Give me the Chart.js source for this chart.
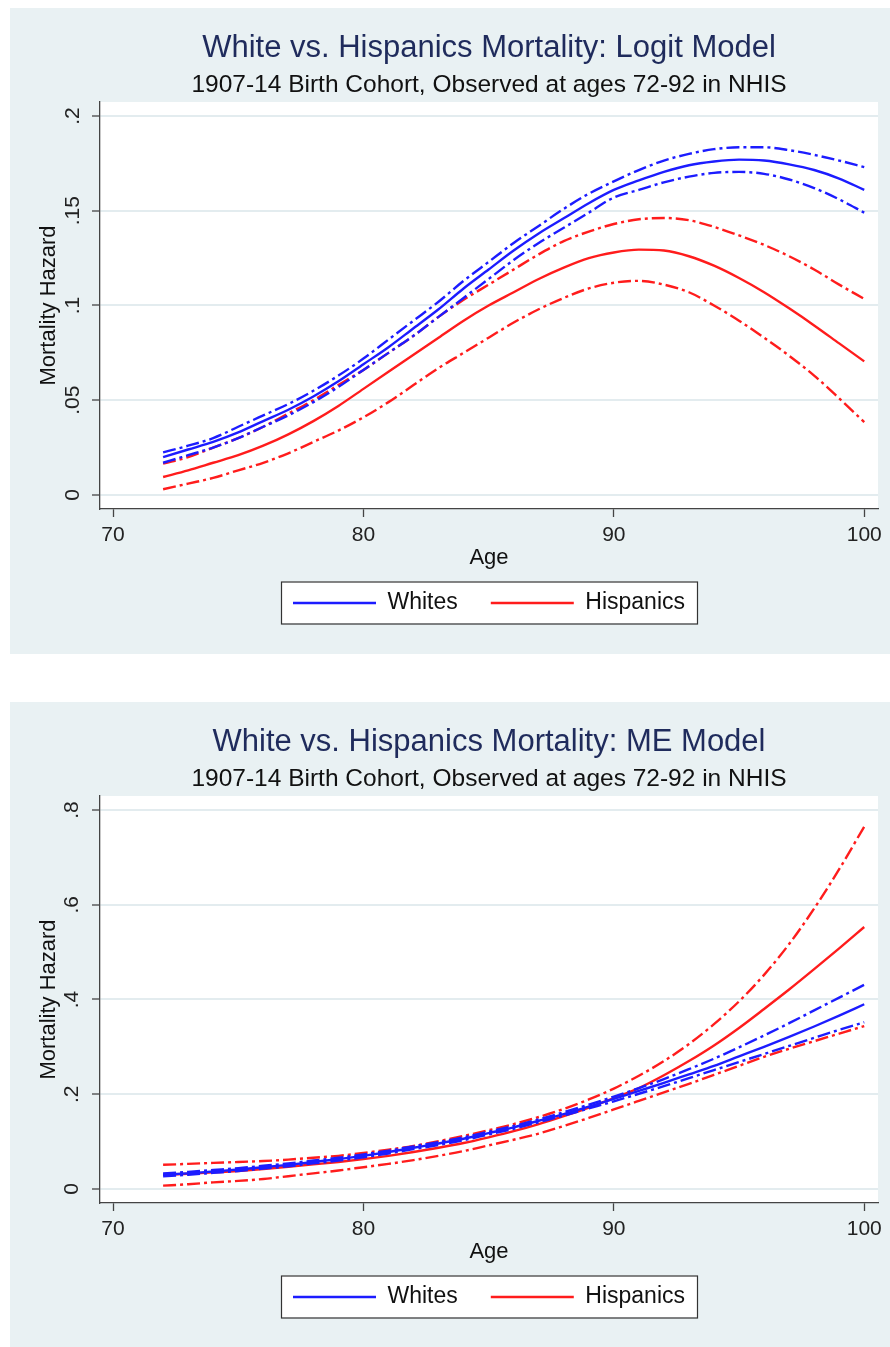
<!DOCTYPE html>
<html>
<head>
<meta charset="utf-8">
<script src="https://cdn.jsdelivr.net/npm/chart.js@4.4.0/dist/chart.umd.min.js"></script>
<style>
  body { margin: 0; background: #fff; }
  .panel { position: absolute; left: 10px; width: 880px; height: 646px; background: #e9f1f3; }
  #panel1 { top: 8px; }
  #panel2 { top: 702px; }
</style>
</head>
<body>
<div class="panel" id="panel1"><canvas id="logitChart"></canvas></div>
<div class="panel" id="panel2"><canvas id="meChart"></canvas></div>
<script>
const ages = [72, 73, 74, 75, 76, 77, 78, 79, 80, 81, 82, 83, 84, 85, 86, 87, 88, 89, 90, 91, 92, 93, 94, 95, 96, 97, 98, 99, 100];

// Logit model (top panel)
const logitWhites      = [.020, .024, .028, .033, .039, .045, .052, .060, .069, .078, .088, .098, .109, .119, .129, .138, .146, .154, .161, .166, .1705, .174, .176, .177, .1765, .1745, .1715, .167, .161];
const logitWhitesUpper = [.0225, .026, .030, .036, .042, .048, .055, .063, .072, .082, .092, .102, .113, .123, .133, .142, .151, .159, .1655, .1715, .1765, .180, .1825, .1835, .1835, .182, .1795, .1765, .173];
const logitWhitesLower = [.017, .021, .025, .030, .036, .042, .049, .057, .066, .075, .084, .094, .104, .114, .124, .133, .141, .149, .157, .161, .165, .168, .170, .1705, .1695, .1665, .162, .156, .149];
const logitHisp        = [.0095, .013, .017, .021, .026, .032, .039, .047, .056, .065, .074, .083, .092, .100, .107, .114, .120, .125, .128, .1295, .129, .126, .121, .1145, .107, .0985, .0895, .080, .0705];
const logitHispUpper   = [.0165, .020, .025, .030, .036, .043, .050, .058, .066, .075, .084, .094, .103, .111, .119, .127, .134, .139, .143, .1455, .1462, .145, .1415, .137, .132, .126, .119, .111, .1035];
const logitHispLower   = [.003, .006, .009, .013, .017, .022, .028, .034, .041, .049, .058, .067, .075, .083, .091, .098, .104, .109, .112, .113, .111, .107, .100, .092, .083, .0735, .063, .051, .0385];

// ME model (bottom panel)
const meWhites      = [.030, .033, .037, .041, .046, .051, .057, .063, .070, .078, .087, .096, .106, .118, .130, .144, .158, .174, .190, .207, .224, .242, .260, .280, .300, .321, .343, .366, .390];
const meWhitesUpper = [.033, .036, .040, .044, .049, .054, .060, .066, .073, .081, .090, .099, .109, .121, .133, .147, .162, .178, .195, .213, .232, .253, .275, .299, .324, .350, .377, .404, .431];
const meWhitesLower = [.027, .030, .034, .038, .043, .048, .054, .060, .067, .075, .084, .093, .103, .115, .127, .141, .155, .170, .185, .201, .217, .234, .251, .268, .285, .302, .319, .336, .352];
const meHisp        = [.030, .032, .035, .038, .042, .047, .052, .057, .063, .070, .078, .087, .097, .109, .122, .137, .154, .172, .192, .213, .240, .270, .303, .340, .380, .421, .464, .508, .553];
const meHispUpper   = [.051, .053, .055, .057, .059, .062, .066, .070, .076, .083, .091, .101, .112, .124, .137, .152, .169, .189, .212, .239, .270, .306, .348, .396, .452, .517, .592, .675, .765];
const meHispLower   = [.007, .010, .014, .017, .021, .027, .033, .039, .046, .053, .061, .070, .080, .092, .104, .117, .133, .150, .168, .186, .204, .222, .241, .260, .279, .296, .312, .328, .344];

const BLUE = '#1c1cff';
const RED = '#ff1c1c';
const DASHDOT = [13, 4, 3, 4];
const FONT = "'Liberation Sans', Arial, sans-serif";

Chart.defaults.font.family = FONT;
Chart.defaults.color = '#111';

// white plot region + framed legend, like the Stata look
const plotBackdrop = {
    id: 'plotBackdrop',
    beforeDraw(chart) {
        const {ctx, chartArea} = chart;
        ctx.save();
        ctx.fillStyle = '#fff';
        ctx.fillRect(chartArea.left, chartArea.top, chartArea.right - chartArea.left, chartArea.bottom - chartArea.top);
        const boxes = chart.legend && chart.legend.legendHitBoxes;
        if (boxes && boxes.length) {
            const left = Math.min(...boxes.map(b => b.left)) - 12;
            const right = Math.max(...boxes.map(b => b.left + b.width)) + 12;
            const top = Math.min(...boxes.map(b => b.top)) - 10;
            const bottom = Math.max(...boxes.map(b => b.top + b.height)) + 9;
            ctx.fillRect(left, top, right - left, bottom - top);
            ctx.strokeStyle = '#333';
            ctx.lineWidth = 1.2;
            ctx.strokeRect(left + 0.5, top + 0.5, right - left, bottom - top);
        }
        ctx.restore();
    }
};

function series(label, values, color, dashed) {
    return {
        label: label,
        data: values.map((v, i) => ({x: ages[i], y: v})),
        borderColor: color,
        backgroundColor: color,
        borderWidth: 2.4,
        borderDash: dashed ? DASHDOT : [],
        pointRadius: 0,
        cubicInterpolationMode: 'monotone',
        fill: false
    };
}

function tickText(v) {
    if (v === 0) return '0';
    return String(v).replace(/^0\./, '.');
}

function buildChart(canvasId, titleText, yMin, yMax, yStep, yTickPad, data) {
    const ctx = document.getElementById(canvasId).getContext('2d');
    return new Chart(ctx, {
        type: 'line',
        data: {
            datasets: [
                series('Whites', data.w, BLUE, false),
                series('Whites upper CI', data.wu, BLUE, true),
                series('Whites lower CI', data.wl, BLUE, true),
                series('Hispanics', data.h, RED, false),
                series('Hispanics upper CI', data.hu, RED, true),
                series('Hispanics lower CI', data.hl, RED, true)
            ]
        },
        options: {
            responsive: true,
            maintainAspectRatio: false,
            animation: false,
            layout: { padding: { top: 0, left: 0, right: 12, bottom: 29.5 } },
            scales: {
                x: {
                    type: 'linear',
                    min: 69.48,
                    max: 100.55,
                    afterFit: s => { s.height = 49.5; },
                    ticks: { stepSize: 10, includeBounds: false, font: { size: 21 }, color: '#222', padding: 5.4 },
                    grid: { drawOnChartArea: false, tickLength: 8, tickColor: '#444', tickWidth: 1.3 },
                    border: { color: '#444', width: 1.3 },
                    title: { display: true, text: 'Age', font: { size: 22 }, color: '#111', padding: { top: 0, bottom: -12.7 } }
                },
                y: {
                    min: yMin,
                    max: yMax,
                    afterFit: s => { s.width = 90; },
                    ticks: {
                        stepSize: yStep, includeBounds: false, minRotation: 90, maxRotation: 90,
                        crossAlign: 'center', padding: yTickPad, font: { size: 21 }, color: '#222',
                        callback: tickText
                    },
                    grid: { color: '#e3ecef', lineWidth: 2, tickLength: 8, tickColor: '#444', tickWidth: 1.3 },
                    border: { color: '#444', width: 1.3 },
                    title: { display: true, text: 'Mortality Hazard', font: { size: 22 }, color: '#111', padding: { top: 26, bottom: 0 } }
                }
            },
            plugins: {
                title: {
                    display: true, text: titleText, fullSize: false, color: '#1f2b5c',
                    font: { size: 31, weight: 'normal', lineHeight: 1.2 }, padding: { top: 21.4, bottom: 0 }
                },
                subtitle: {
                    display: true, text: '1907-14 Birth Cohort, Observed at ages 72-92 in NHIS', fullSize: false, color: '#111',
                    font: { size: 24.5, weight: 'normal', lineHeight: 1.2 }, padding: { top: 3.7, bottom: 2.3 }
                },
                legend: {
                    position: 'bottom',
                    fullSize: false,
                    labels: {
                        usePointStyle: true,
                        pointStyle: 'line',
                        pointStyleWidth: 83,
                        padding: 33,
                        color: '#111',
                        font: { size: 23 },
                        filter: item => !item.text.includes('CI')
                    }
                },
                tooltip: { enabled: false }
            }
        },
        plugins: [plotBackdrop]
    });
}

buildChart('logitChart', 'White vs. Hispanics Mortality: Logit Model', -0.0074, 0.2074, 0.05, 4.7, {
    w: logitWhites, wu: logitWhitesUpper, wl: logitWhitesLower,
    h: logitHisp, hu: logitHispUpper, hl: logitHispLower
});

buildChart('meChart', 'White vs. Hispanics Mortality: ME Model', -0.0296, 0.8296, 0.2, 10.8, {
    w: meWhites, wu: meWhitesUpper, wl: meWhitesLower,
    h: meHisp, hu: meHispUpper, hl: meHispLower
});
</script>
</body>
</html>
